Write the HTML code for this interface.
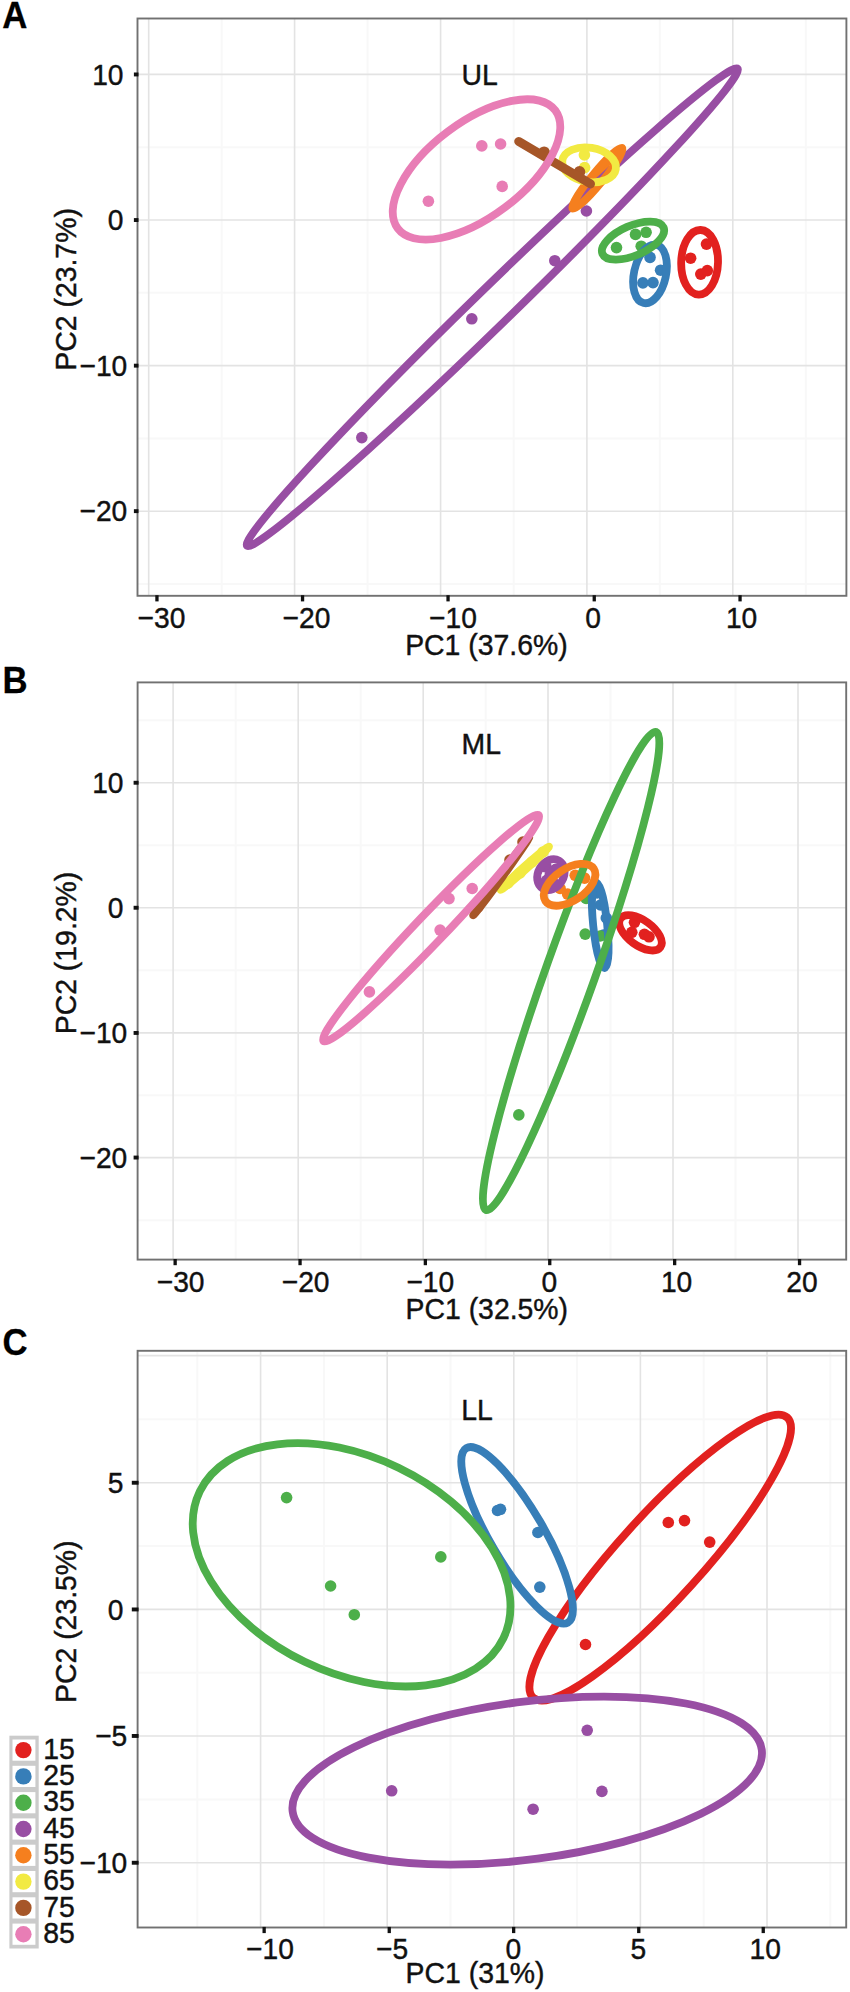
<!DOCTYPE html>
<html><head><meta charset="utf-8"><title>PCA</title>
<style>
html,body{margin:0;padding:0;background:#fff}
svg{display:block}
text{font-family:"Liberation Sans",sans-serif;fill:#111;stroke:#111;stroke-width:0.4px}
.t{font-size:28.2px}
.a{font-size:28.4px}
.b{font-size:36.6px;font-weight:bold;fill:#000;stroke:#000;stroke-width:0.3px}
</style></head><body>
<svg width="850" height="1992" viewBox="0 0 850 1992">
<rect width="850" height="1992" fill="#fff"/>
<rect x="137.5" y="18.5" width="708.9" height="577.3" fill="#fff"/>
<line x1="221.7" x2="221.7" y1="18.5" y2="595.8" stroke="#f8f8f8" stroke-width="2"/>
<line x1="367.6" x2="367.6" y1="18.5" y2="595.8" stroke="#f8f8f8" stroke-width="2"/>
<line x1="513.7" x2="513.7" y1="18.5" y2="595.8" stroke="#f8f8f8" stroke-width="2"/>
<line x1="659.8" x2="659.8" y1="18.5" y2="595.8" stroke="#f8f8f8" stroke-width="2"/>
<line x1="805.8" x2="805.8" y1="18.5" y2="595.8" stroke="#f8f8f8" stroke-width="2"/>
<line y1="147.2" y2="147.2" x1="137.5" x2="846.4" stroke="#f8f8f8" stroke-width="2"/>
<line y1="292.8" y2="292.8" x1="137.5" x2="846.4" stroke="#f8f8f8" stroke-width="2"/>
<line y1="438.4" y2="438.4" x1="137.5" x2="846.4" stroke="#f8f8f8" stroke-width="2"/>
<line y1="584" y2="584" x1="137.5" x2="846.4" stroke="#f8f8f8" stroke-width="2"/>
<line x1="148.7" x2="148.7" y1="18.5" y2="595.8" stroke="#e3e3e3" stroke-width="1.6"/>
<line x1="294.6" x2="294.6" y1="18.5" y2="595.8" stroke="#e3e3e3" stroke-width="1.6"/>
<line x1="440.6" x2="440.6" y1="18.5" y2="595.8" stroke="#e3e3e3" stroke-width="1.6"/>
<line x1="586.9" x2="586.9" y1="18.5" y2="595.8" stroke="#e3e3e3" stroke-width="1.6"/>
<line x1="732.8" x2="732.8" y1="18.5" y2="595.8" stroke="#e3e3e3" stroke-width="1.6"/>
<line y1="74.4" y2="74.4" x1="137.5" x2="846.4" stroke="#e3e3e3" stroke-width="1.6"/>
<line y1="220" y2="220" x1="137.5" x2="846.4" stroke="#e3e3e3" stroke-width="1.6"/>
<line y1="365.6" y2="365.6" x1="137.5" x2="846.4" stroke="#e3e3e3" stroke-width="1.6"/>
<line y1="511.2" y2="511.2" x1="137.5" x2="846.4" stroke="#e3e3e3" stroke-width="1.6"/>
<circle cx="706.5" cy="244.1" r="5.8" fill="#e2211f"/>
<circle cx="690.6" cy="258.2" r="5.8" fill="#e2211f"/>
<circle cx="700.8" cy="274.1" r="5.8" fill="#e2211f"/>
<circle cx="707.3" cy="270.6" r="5.8" fill="#e2211f"/>
<circle cx="650.0" cy="257.4" r="5.8" fill="#377eb8"/>
<circle cx="660.6" cy="270.2" r="5.8" fill="#377eb8"/>
<circle cx="642.9" cy="282.9" r="5.8" fill="#377eb8"/>
<circle cx="653.0" cy="282.6" r="5.8" fill="#377eb8"/>
<circle cx="616.5" cy="247.6" r="5.8" fill="#4daf4a"/>
<circle cx="635.5" cy="234.4" r="5.8" fill="#4daf4a"/>
<circle cx="646.1" cy="232.3" r="5.8" fill="#4daf4a"/>
<circle cx="641.2" cy="246.2" r="5.8" fill="#4daf4a"/>
<circle cx="361.8" cy="437.6" r="5.8" fill="#984ea3"/>
<circle cx="471.8" cy="318.8" r="5.8" fill="#984ea3"/>
<circle cx="554.8" cy="260.7" r="5.8" fill="#984ea3"/>
<circle cx="586.4" cy="211.0" r="5.8" fill="#984ea3"/>
<circle cx="590.0" cy="186.0" r="5.8" fill="#f57f1e"/>
<circle cx="598.0" cy="176.0" r="5.8" fill="#f57f1e"/>
<circle cx="604.0" cy="168.0" r="5.8" fill="#f57f1e"/>
<circle cx="609.0" cy="160.0" r="5.8" fill="#f57f1e"/>
<circle cx="584.4" cy="154.9" r="5.8" fill="#f2ea42"/>
<circle cx="584.6" cy="167.6" r="5.8" fill="#f2ea42"/>
<circle cx="544.1" cy="152.2" r="5.8" fill="#a65628"/>
<circle cx="579.5" cy="171.8" r="5.8" fill="#a65628"/>
<circle cx="481.8" cy="145.9" r="5.8" fill="#e87db5"/>
<circle cx="500.6" cy="144.0" r="5.8" fill="#e87db5"/>
<circle cx="502.2" cy="186.4" r="5.8" fill="#e87db5"/>
<circle cx="428.4" cy="201.2" r="5.8" fill="#e87db5"/>
<ellipse cx="699.6" cy="262.3" rx="32.3" ry="18.4" transform="rotate(-88.3 699.6 262.3)" fill="none" stroke="#e2211f" stroke-width="7.8"/>
<ellipse cx="650.0" cy="273.9" rx="29.8" ry="16.0" transform="rotate(-77.7 650.0 273.9)" fill="none" stroke="#377eb8" stroke-width="7.8"/>
<ellipse cx="633.0" cy="240.6" rx="33.3" ry="14.9" transform="rotate(-23.5 633.0 240.6)" fill="none" stroke="#4daf4a" stroke-width="7.8"/>
<ellipse cx="492.3" cy="307.2" rx="342.2" ry="18.6" transform="rotate(-44.2 492.3 307.2)" fill="none" stroke="#984ea3" stroke-width="7.8"/>
<ellipse cx="597.4" cy="178.2" rx="39.2" ry="5.6" transform="rotate(-50.6 597.4 178.2)" fill="none" stroke="#f57f1e" stroke-width="7.8"/>
<ellipse cx="589.1" cy="164.8" rx="27.1" ry="17.1" transform="rotate(9.4 589.1 164.8)" fill="none" stroke="#f2ea42" stroke-width="7.8"/>
<line x1="518.6" y1="141.4" x2="590.6" y2="183.9" stroke="#a65628" stroke-width="8.8" stroke-linecap="round"/>
<ellipse cx="476.5" cy="169.4" rx="98.4" ry="47.5" transform="rotate(-36.8 476.5 169.4)" fill="none" stroke="#e87db5" stroke-width="7.8"/>
<rect x="137.5" y="18.5" width="708.9" height="577.3" fill="none" stroke="#717171" stroke-width="1.9"/>
<rect x="155.3" y="595.2" width="3.3" height="6.2" fill="#111"/>
<text transform="translate(161.5,627.8) scale(1,1.06)" text-anchor="middle" class="t">−30</text>
<rect x="300.9" y="595.2" width="3.3" height="6.2" fill="#111"/>
<text transform="translate(306.5,627.8) scale(1,1.06)" text-anchor="middle" class="t">−20</text>
<rect x="446.4" y="595.2" width="3.3" height="6.2" fill="#111"/>
<text transform="translate(453.0,627.8) scale(1,1.06)" text-anchor="middle" class="t">−10</text>
<rect x="592.6" y="595.2" width="3.3" height="6.2" fill="#111"/>
<text transform="translate(593.0,627.8) scale(1,1.06)" text-anchor="middle" class="t">0</text>
<rect x="738.4" y="595.2" width="3.3" height="6.2" fill="#111"/>
<text transform="translate(741.6,627.8) scale(1,1.06)" text-anchor="middle" class="t">10</text>
<rect x="133.9" y="72.5" width="4.6" height="3.9" fill="#111"/>
<text transform="translate(123.5,84.5) scale(1,1.06)" text-anchor="end" class="t">10</text>
<rect x="133.9" y="218.1" width="4.6" height="3.9" fill="#111"/>
<text transform="translate(123.5,230.1) scale(1,1.06)" text-anchor="end" class="t">0</text>
<rect x="133.9" y="363.7" width="4.6" height="3.9" fill="#111"/>
<text transform="translate(127.3,375.7) scale(1,1.06)" text-anchor="end" class="t">−10</text>
<rect x="133.9" y="509.2" width="4.6" height="3.9" fill="#111"/>
<text transform="translate(127.3,521.3) scale(1,1.06)" text-anchor="end" class="t">−20</text>
<text transform="translate(486.4,655.1) scale(1,1.06)" text-anchor="middle" class="a">PC1 (37.6%)</text>
<text transform="translate(76,289.4) rotate(-90) scale(1,1.06)" text-anchor="middle" class="a">PC2 (23.7%)</text>
<text transform="translate(479.6,84.5) scale(1,1.06)" text-anchor="middle" class="a">UL</text>
<text transform="translate(2.2,27.9) scale(0.95,1)" class="b">A</text>
<rect x="137.6" y="682.4" width="708.6" height="577.1999999999999" fill="#fff"/>
<line x1="235.7" x2="235.7" y1="682.4" y2="1259.6" stroke="#f8f8f8" stroke-width="2"/>
<line x1="360.7" x2="360.7" y1="682.4" y2="1259.6" stroke="#f8f8f8" stroke-width="2"/>
<line x1="485.7" x2="485.7" y1="682.4" y2="1259.6" stroke="#f8f8f8" stroke-width="2"/>
<line x1="610.5" x2="610.5" y1="682.4" y2="1259.6" stroke="#f8f8f8" stroke-width="2"/>
<line x1="735.5" x2="735.5" y1="682.4" y2="1259.6" stroke="#f8f8f8" stroke-width="2"/>
<line y1="720.3" y2="720.3" x1="137.6" x2="846.2" stroke="#f8f8f8" stroke-width="2"/>
<line y1="845.3" y2="845.3" x1="137.6" x2="846.2" stroke="#f8f8f8" stroke-width="2"/>
<line y1="970.3" y2="970.3" x1="137.6" x2="846.2" stroke="#f8f8f8" stroke-width="2"/>
<line y1="1095.3" y2="1095.3" x1="137.6" x2="846.2" stroke="#f8f8f8" stroke-width="2"/>
<line y1="1220.2" y2="1220.2" x1="137.6" x2="846.2" stroke="#f8f8f8" stroke-width="2"/>
<line x1="173.1" x2="173.1" y1="682.4" y2="1259.6" stroke="#e3e3e3" stroke-width="1.6"/>
<line x1="298.2" x2="298.2" y1="682.4" y2="1259.6" stroke="#e3e3e3" stroke-width="1.6"/>
<line x1="423.2" x2="423.2" y1="682.4" y2="1259.6" stroke="#e3e3e3" stroke-width="1.6"/>
<line x1="548" x2="548" y1="682.4" y2="1259.6" stroke="#e3e3e3" stroke-width="1.6"/>
<line x1="673" x2="673" y1="682.4" y2="1259.6" stroke="#e3e3e3" stroke-width="1.6"/>
<line x1="798" x2="798" y1="682.4" y2="1259.6" stroke="#e3e3e3" stroke-width="1.6"/>
<line y1="782.8" y2="782.8" x1="137.6" x2="846.2" stroke="#e3e3e3" stroke-width="1.6"/>
<line y1="907.8" y2="907.8" x1="137.6" x2="846.2" stroke="#e3e3e3" stroke-width="1.6"/>
<line y1="1032.9" y2="1032.9" x1="137.6" x2="846.2" stroke="#e3e3e3" stroke-width="1.6"/>
<line y1="1157.6" y2="1157.6" x1="137.6" x2="846.2" stroke="#e3e3e3" stroke-width="1.6"/>
<circle cx="634.5" cy="922.3" r="5.8" fill="#e2211f"/>
<circle cx="631.8" cy="932.3" r="5.8" fill="#e2211f"/>
<circle cx="644.4" cy="934.3" r="5.8" fill="#e2211f"/>
<circle cx="649.0" cy="936.8" r="5.8" fill="#e2211f"/>
<circle cx="597.0" cy="893.0" r="5.8" fill="#377eb8"/>
<circle cx="606.3" cy="918.0" r="5.8" fill="#377eb8"/>
<circle cx="600.5" cy="905.0" r="5.8" fill="#377eb8"/>
<circle cx="603.5" cy="935.0" r="5.8" fill="#377eb8"/>
<circle cx="585.2" cy="934.1" r="5.8" fill="#4daf4a"/>
<circle cx="586.1" cy="898.4" r="5.8" fill="#4daf4a"/>
<circle cx="600.2" cy="936.0" r="5.8" fill="#4daf4a"/>
<circle cx="518.8" cy="1114.9" r="5.8" fill="#4daf4a"/>
<circle cx="545.0" cy="866.0" r="6.5" fill="#984ea3"/>
<circle cx="556.0" cy="870.0" r="6.5" fill="#984ea3"/>
<circle cx="547.0" cy="881.0" r="6.5" fill="#984ea3"/>
<circle cx="555.0" cy="885.0" r="6.5" fill="#984ea3"/>
<circle cx="551.0" cy="875.0" r="6.5" fill="#984ea3"/>
<circle cx="575.2" cy="875.3" r="5.8" fill="#f57f1e"/>
<circle cx="584.6" cy="878.1" r="5.8" fill="#f57f1e"/>
<circle cx="567.6" cy="894.1" r="5.8" fill="#f57f1e"/>
<circle cx="560.1" cy="888.5" r="5.8" fill="#f57f1e"/>
<circle cx="508.0" cy="883.0" r="5.8" fill="#f2ea42"/>
<circle cx="520.0" cy="873.0" r="5.8" fill="#f2ea42"/>
<circle cx="532.0" cy="862.0" r="5.8" fill="#f2ea42"/>
<circle cx="543.0" cy="852.0" r="5.8" fill="#f2ea42"/>
<circle cx="478.0" cy="907.0" r="5.8" fill="#a65628"/>
<circle cx="492.0" cy="886.0" r="5.8" fill="#a65628"/>
<circle cx="510.0" cy="860.0" r="5.8" fill="#a65628"/>
<circle cx="523.0" cy="842.0" r="5.8" fill="#a65628"/>
<circle cx="449.0" cy="898.6" r="5.8" fill="#e87db5"/>
<circle cx="472.2" cy="888.5" r="5.8" fill="#e87db5"/>
<circle cx="440.1" cy="930.1" r="5.8" fill="#e87db5"/>
<circle cx="369.4" cy="991.9" r="5.8" fill="#e87db5"/>
<ellipse cx="640.5" cy="932.8" rx="24.6" ry="12.6" transform="rotate(35.9 640.5 932.8)" fill="none" stroke="#e2211f" stroke-width="7.8"/>
<ellipse cx="600.2" cy="925.2" rx="43.1" ry="7.0" transform="rotate(84.2 600.2 925.2)" fill="none" stroke="#377eb8" stroke-width="7.8"/>
<ellipse cx="571.1" cy="971.0" rx="253.7" ry="24.8" transform="rotate(-70.4 571.1 971.0)" fill="none" stroke="#4daf4a" stroke-width="7.8"/>
<ellipse cx="550.9" cy="874.6" rx="16.2" ry="12.8" transform="rotate(-60.0 550.9 874.6)" fill="none" stroke="#984ea3" stroke-width="7.8"/>
<ellipse cx="569.6" cy="884.8" rx="29.1" ry="16.0" transform="rotate(-33.8 569.6 884.8)" fill="none" stroke="#f57f1e" stroke-width="7.8"/>
<ellipse cx="524.8" cy="868.2" rx="32.5" ry="1.6" transform="rotate(-41.8 524.8 868.2)" fill="none" stroke="#f2ea42" stroke-width="7.8"/>
<ellipse cx="501.2" cy="876.3" rx="48.0" ry="1.4" transform="rotate(-54.3 501.2 876.3)" fill="none" stroke="#a65628" stroke-width="7.8"/>
<ellipse cx="431.1" cy="928.1" rx="156.1" ry="14.2" transform="rotate(-46.4 431.1 928.1)" fill="none" stroke="#e87db5" stroke-width="7.8"/>
<rect x="137.6" y="682.4" width="708.6" height="577.1999999999999" fill="none" stroke="#717171" stroke-width="1.9"/>
<rect x="173.5" y="1259.0" width="3.3" height="6.2" fill="#111"/>
<text transform="translate(180.6,1291.6) scale(1,1.06)" text-anchor="middle" class="t">−30</text>
<rect x="298.4" y="1259.0" width="3.3" height="6.2" fill="#111"/>
<text transform="translate(305.6,1291.6) scale(1,1.06)" text-anchor="middle" class="t">−20</text>
<rect x="423.7" y="1259.0" width="3.3" height="6.2" fill="#111"/>
<text transform="translate(430.3,1291.6) scale(1,1.06)" text-anchor="middle" class="t">−10</text>
<rect x="548.1" y="1259.0" width="3.3" height="6.2" fill="#111"/>
<text transform="translate(549.3,1291.6) scale(1,1.06)" text-anchor="middle" class="t">0</text>
<rect x="673.0" y="1259.0" width="3.3" height="6.2" fill="#111"/>
<text transform="translate(676.6,1291.6) scale(1,1.06)" text-anchor="middle" class="t">10</text>
<rect x="797.9" y="1259.0" width="3.3" height="6.2" fill="#111"/>
<text transform="translate(802.0,1291.6) scale(1,1.06)" text-anchor="middle" class="t">20</text>
<rect x="133.6" y="780.8" width="5.0" height="3.9" fill="#111"/>
<text transform="translate(123.5,792.9) scale(1,1.06)" text-anchor="end" class="t">10</text>
<rect x="133.6" y="905.8" width="5.0" height="3.9" fill="#111"/>
<text transform="translate(123.5,917.9) scale(1,1.06)" text-anchor="end" class="t">0</text>
<rect x="133.6" y="1031.0" width="5.0" height="3.9" fill="#111"/>
<text transform="translate(127.3,1043.0) scale(1,1.06)" text-anchor="end" class="t">−10</text>
<rect x="133.6" y="1155.6" width="5.0" height="3.9" fill="#111"/>
<text transform="translate(127.3,1167.7) scale(1,1.06)" text-anchor="end" class="t">−20</text>
<text transform="translate(486.8,1319.4) scale(1,1.06)" text-anchor="middle" class="a">PC1 (32.5%)</text>
<text transform="translate(76,953) rotate(-90) scale(1,1.06)" text-anchor="middle" class="a">PC2 (19.2%)</text>
<text transform="translate(481.2,754.4) scale(1,1.06)" text-anchor="middle" class="a">ML</text>
<text transform="translate(2.6,692.9) scale(0.95,1)" class="b">B</text>
<rect x="137.6" y="1350.8" width="708.6" height="576.7" fill="#fff"/>
<line x1="197.3" x2="197.3" y1="1350.8" y2="1927.5" stroke="#f8f8f8" stroke-width="2"/>
<line x1="323.9" x2="323.9" y1="1350.8" y2="1927.5" stroke="#f8f8f8" stroke-width="2"/>
<line x1="450.5" x2="450.5" y1="1350.8" y2="1927.5" stroke="#f8f8f8" stroke-width="2"/>
<line x1="577.1" x2="577.1" y1="1350.8" y2="1927.5" stroke="#f8f8f8" stroke-width="2"/>
<line x1="703.7" x2="703.7" y1="1350.8" y2="1927.5" stroke="#f8f8f8" stroke-width="2"/>
<line x1="830.3" x2="830.3" y1="1350.8" y2="1927.5" stroke="#f8f8f8" stroke-width="2"/>
<line y1="1419.2" y2="1419.2" x1="137.6" x2="846.2" stroke="#f8f8f8" stroke-width="2"/>
<line y1="1546.1" y2="1546.1" x1="137.6" x2="846.2" stroke="#f8f8f8" stroke-width="2"/>
<line y1="1672.7" y2="1672.7" x1="137.6" x2="846.2" stroke="#f8f8f8" stroke-width="2"/>
<line y1="1799.4" y2="1799.4" x1="137.6" x2="846.2" stroke="#f8f8f8" stroke-width="2"/>
<line x1="260.6" x2="260.6" y1="1350.8" y2="1927.5" stroke="#e3e3e3" stroke-width="1.6"/>
<line x1="387.2" x2="387.2" y1="1350.8" y2="1927.5" stroke="#e3e3e3" stroke-width="1.6"/>
<line x1="513.8" x2="513.8" y1="1350.8" y2="1927.5" stroke="#e3e3e3" stroke-width="1.6"/>
<line x1="640.4" x2="640.4" y1="1350.8" y2="1927.5" stroke="#e3e3e3" stroke-width="1.6"/>
<line x1="767" x2="767" y1="1350.8" y2="1927.5" stroke="#e3e3e3" stroke-width="1.6"/>
<line y1="1355.6" y2="1355.6" x1="137.6" x2="846.2" stroke="#e3e3e3" stroke-width="1.6"/>
<line y1="1482.8" y2="1482.8" x1="137.6" x2="846.2" stroke="#e3e3e3" stroke-width="1.6"/>
<line y1="1609.4" y2="1609.4" x1="137.6" x2="846.2" stroke="#e3e3e3" stroke-width="1.6"/>
<line y1="1736" y2="1736" x1="137.6" x2="846.2" stroke="#e3e3e3" stroke-width="1.6"/>
<line y1="1862.8" y2="1862.8" x1="137.6" x2="846.2" stroke="#e3e3e3" stroke-width="1.6"/>
<circle cx="668.3" cy="1522.5" r="5.8" fill="#e2211f"/>
<circle cx="684.5" cy="1520.6" r="5.8" fill="#e2211f"/>
<circle cx="709.7" cy="1542.1" r="5.8" fill="#e2211f"/>
<circle cx="585.5" cy="1644.5" r="5.8" fill="#e2211f"/>
<circle cx="497.5" cy="1510.5" r="5.8" fill="#377eb8"/>
<circle cx="500.5" cy="1509.3" r="5.8" fill="#377eb8"/>
<circle cx="537.9" cy="1532.5" r="5.8" fill="#377eb8"/>
<circle cx="539.8" cy="1587.1" r="5.8" fill="#377eb8"/>
<circle cx="286.6" cy="1497.6" r="5.8" fill="#4daf4a"/>
<circle cx="440.8" cy="1556.9" r="5.8" fill="#4daf4a"/>
<circle cx="330.6" cy="1586.0" r="5.8" fill="#4daf4a"/>
<circle cx="354.3" cy="1614.7" r="5.8" fill="#4daf4a"/>
<circle cx="391.7" cy="1790.8" r="5.8" fill="#984ea3"/>
<circle cx="587.2" cy="1730.3" r="5.8" fill="#984ea3"/>
<circle cx="601.9" cy="1791.4" r="5.8" fill="#984ea3"/>
<circle cx="533.1" cy="1809.2" r="5.8" fill="#984ea3"/>
<ellipse cx="660.2" cy="1557.6" rx="189.1" ry="41.8" transform="rotate(-47.8 660.2 1557.6)" fill="none" stroke="#e2211f" stroke-width="7.8"/>
<ellipse cx="517.1" cy="1535.3" rx="100.9" ry="26.8" transform="rotate(59.8 517.1 1535.3)" fill="none" stroke="#377eb8" stroke-width="7.8"/>
<ellipse cx="351.6" cy="1564.8" rx="168.6" ry="107.8" transform="rotate(25.8 351.6 1564.8)" fill="none" stroke="#4daf4a" stroke-width="7.8"/>
<ellipse cx="527.2" cy="1780.6" rx="236.6" ry="78.8" transform="rotate(-7.5 527.2 1780.6)" fill="none" stroke="#984ea3" stroke-width="7.8"/>
<rect x="137.6" y="1350.8" width="708.6" height="576.7" fill="none" stroke="#717171" stroke-width="1.9"/>
<rect x="262.5" y="1926.9" width="3.3" height="6.2" fill="#111"/>
<text transform="translate(270.0,1958.7) scale(1,1.06)" text-anchor="middle" class="t">−10</text>
<rect x="387.6" y="1926.9" width="3.3" height="6.2" fill="#111"/>
<text transform="translate(392.0,1958.7) scale(1,1.06)" text-anchor="middle" class="t">−5</text>
<rect x="512.0" y="1926.9" width="3.3" height="6.2" fill="#111"/>
<text transform="translate(513.4,1958.7) scale(1,1.06)" text-anchor="middle" class="t">0</text>
<rect x="637.1" y="1926.9" width="3.3" height="6.2" fill="#111"/>
<text transform="translate(638.3,1958.7) scale(1,1.06)" text-anchor="middle" class="t">5</text>
<rect x="761.6" y="1926.9" width="3.3" height="6.2" fill="#111"/>
<text transform="translate(765.3,1958.7) scale(1,1.06)" text-anchor="middle" class="t">10</text>
<rect x="131.8" y="1480.8" width="6.8" height="3.9" fill="#111"/>
<text transform="translate(123.5,1492.9) scale(1,1.06)" text-anchor="end" class="t">5</text>
<rect x="131.8" y="1607.5" width="6.8" height="3.9" fill="#111"/>
<text transform="translate(123.5,1619.5) scale(1,1.06)" text-anchor="end" class="t">0</text>
<rect x="131.8" y="1734.0" width="6.8" height="3.9" fill="#111"/>
<text transform="translate(127.3,1746.1) scale(1,1.06)" text-anchor="end" class="t">−5</text>
<rect x="131.8" y="1860.8" width="6.8" height="3.9" fill="#111"/>
<text transform="translate(127.3,1872.9) scale(1,1.06)" text-anchor="end" class="t">−10</text>
<text transform="translate(475,1983.4) scale(1,1.06)" text-anchor="middle" class="a">PC1 (31%)</text>
<text transform="translate(76,1621.7) rotate(-90) scale(1,1.06)" text-anchor="middle" class="a">PC2 (23.5%)</text>
<text transform="translate(477,1419.9) scale(1,1.06)" text-anchor="middle" class="a">LL</text>
<text transform="translate(2.6,1354.9) scale(0.95,1)" class="b">C</text>
<rect x="9.4" y="1735.7" width="29.3" height="212.8" fill="#cbcbcb"/>
<rect x="12.5" y="1739.50" width="22.9" height="21.2" fill="#fff"/>
<circle cx="23.4" cy="1750.1" r="8.2" fill="#e2211f"/>
<text transform="translate(43.3,1758.7) scale(1,1.06)" class="a">15</text>
<rect x="12.5" y="1765.80" width="22.9" height="21.2" fill="#fff"/>
<circle cx="23.4" cy="1776.4" r="8.2" fill="#377eb8"/>
<text transform="translate(43.3,1785.0) scale(1,1.06)" class="a">25</text>
<rect x="12.5" y="1792.10" width="22.9" height="21.2" fill="#fff"/>
<circle cx="23.4" cy="1802.7" r="8.2" fill="#4daf4a"/>
<text transform="translate(43.3,1811.3) scale(1,1.06)" class="a">35</text>
<rect x="12.5" y="1818.40" width="22.9" height="21.2" fill="#fff"/>
<circle cx="23.4" cy="1829.0" r="8.2" fill="#984ea3"/>
<text transform="translate(43.3,1837.6) scale(1,1.06)" class="a">45</text>
<rect x="12.5" y="1844.70" width="22.9" height="21.2" fill="#fff"/>
<circle cx="23.4" cy="1855.3" r="8.2" fill="#f57f1e"/>
<text transform="translate(43.3,1863.9) scale(1,1.06)" class="a">55</text>
<rect x="12.5" y="1871.00" width="22.9" height="21.2" fill="#fff"/>
<circle cx="23.4" cy="1881.6" r="8.2" fill="#f2ea42"/>
<text transform="translate(43.3,1890.2) scale(1,1.06)" class="a">65</text>
<rect x="12.5" y="1897.30" width="22.9" height="21.2" fill="#fff"/>
<circle cx="23.4" cy="1907.9" r="8.2" fill="#a65628"/>
<text transform="translate(43.3,1916.5) scale(1,1.06)" class="a">75</text>
<rect x="12.5" y="1923.60" width="22.9" height="21.2" fill="#fff"/>
<circle cx="23.4" cy="1934.2" r="8.2" fill="#e87db5"/>
<text transform="translate(43.3,1942.8) scale(1,1.06)" class="a">85</text>
</svg></body></html>
